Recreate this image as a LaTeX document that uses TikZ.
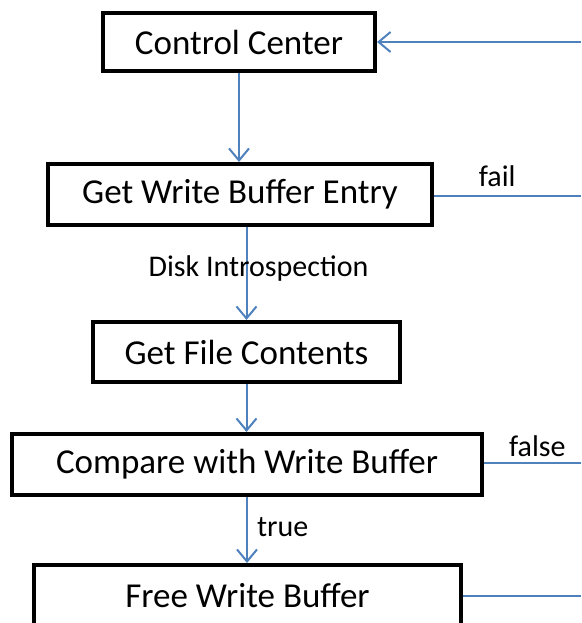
\documentclass[tikz,border=0pt]{standalone}
\usepackage{fontspec}
\setmainfont{Carlito}
\usepackage{xcolor}
\definecolor{flowblue}{RGB}{79,129,189}
\usepackage{tikz}
\usetikzlibrary{arrows.meta, positioning}

\tikzset{
  stepbox/.style={draw=black, line width=4pt, fill=white, inner sep=0pt,
    font=\fontsize{35}{40}\selectfont},
  flow/.style={flowblue, line width=2pt},
  flowarrow/.style={flow, -{Straight Barb[length=12pt, width=20pt, line width=2pt]}},
  edgelabel/.style={text=black, font=\fontsize{30}{34}\selectfont, inner sep=1pt}
}

\begin{document}
\begin{tikzpicture}[x=1pt, y=-1pt]
  \useasboundingbox (0,0) rectangle (581,623);

  % Boxes
  \node[stepbox, minimum width=272pt, minimum height=58pt] (cc)   at (239,42)    {Control Center};
  \node[stepbox, minimum width=384pt, minimum height=61pt] (gwbe) at (240,194.5) {Get Write Buffer Entry};
  \node[stepbox, minimum width=307pt, minimum height=60pt] (gfc)  at (246.5,352)  {Get File Contents};
  \node[stepbox, minimum width=470pt, minimum height=61pt] (cwb)  at (247,464.5) {Compare with Write Buffer};
  \node[stepbox, minimum width=427pt, minimum height=62pt] (fwb)  at (247.5,596) {Free Write Buffer};

  % Free ends on the right border
  \coordinate (back)  at (581,42);
  \coordinate (fail)  at (581,196);
  \coordinate (false) at (581,463);
  \coordinate (done)  at (581,596);

  % Main flow
  \draw[flowarrow] (cc.south) -- (cc.south |- gwbe.north);
  \draw[flowarrow] (gfc.north |- gwbe.south) -- node[edgelabel, pos=0.45, xshift=12pt] {Disk Introspection} (gfc.north);
  \draw[flowarrow] (gfc.south) -- (gfc.south |- cwb.north);
  \draw[flowarrow] (cwb.south) -- node[edgelabel, pos=0.45, right=8pt] {true} (cwb.south |- fwb.north);

  % Exits to the right
  \draw[flowarrow] (back) -- (cc.east);
  \draw[flow] (gwbe.east |- fail) -- node[edgelabel, pos=0.43, above=7pt] {fail} (fail);
  \draw[flow] (cwb.east |- false) -- node[edgelabel, pos=0.55, above=4pt] {false} (false);
  \draw[flow] (fwb.east) -- (done);
\end{tikzpicture}
\end{document}
